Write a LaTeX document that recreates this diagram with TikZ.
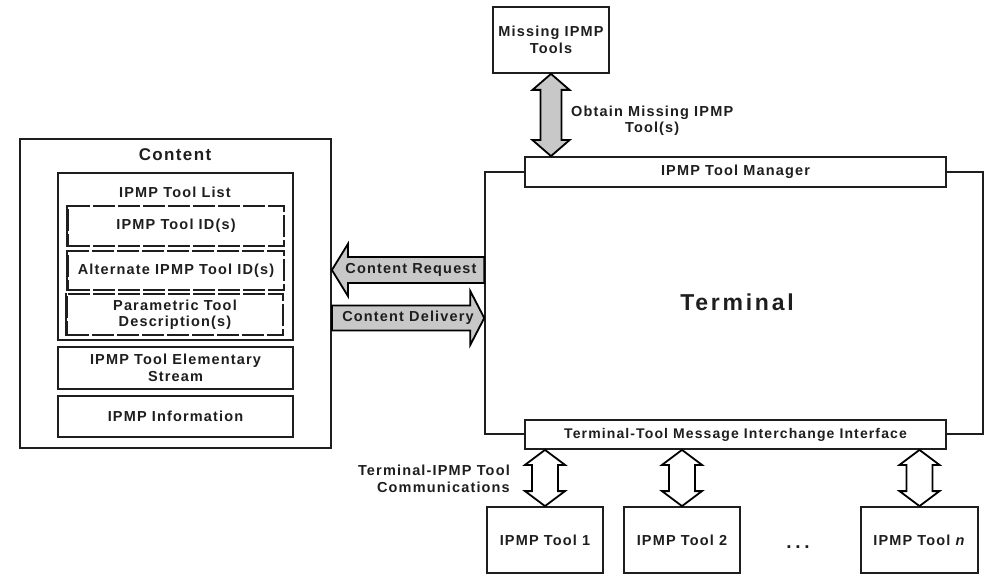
\documentclass[tikz,border=0pt]{standalone}
\usepackage{fontspec}
\setmainfont{Liberation Sans}[LetterSpace=8]
\usetikzlibrary{calc}
\definecolor{ink}{HTML}{1E1E1E}
\definecolor{arrowgray}{HTML}{C8C8C8}
\newcommand{\harrowshape}[6]{%
  \draw[#1] let \p1=(#2), \p2=(#3) in
    (\x1,\y1) -- (\x1+#6,\y1+#5) -- (\x1+#6,\y1+#4) -- (\x2,\y1+#4)
    -- (\x2,\y1-#4) -- (\x1+#6,\y1-#4) -- (\x1+#6,\y1-#5) -- cycle;}
\newcommand{\vdarrowshape}[6]{%
  \draw[#1] let \p1=(#2), \p2=(#3) in
    (\x1,\y1) -- (\x1+#5,\y1-#6) -- (\x1+#4,\y1-#6) -- (\x1+#4,\y2+#6)
    -- (\x1+#5,\y2+#6) -- (\x1,\y2) -- (\x1-#5,\y2+#6) -- (\x1-#4,\y2+#6)
    -- (\x1-#4,\y1-#6) -- (\x1-#5,\y1-#6) -- cycle;}
\begin{document}
\begin{tikzpicture}[x=1pt,y=-1pt,
  every node/.style={text=ink, font=\bfseries\fontsize{14.5}{16.5}\selectfont, inner sep=0pt},
  box/.style={draw=ink, line width=1.8pt, fill=white, align=center},
  dbox/.style={draw=ink, line width=1.8pt, dash pattern=on 22pt off 3pt, align=center},
  solidedge/.style={draw=ink, line width=1.8pt},
  frame/.style={draw=ink, line width=1.5pt},
  blockgray/.style={draw=black, line width=1.8pt, fill=arrowgray, line join=miter},
  blockwhite/.style={draw=black, line width=1.8pt, fill=white, line join=miter},
  lbl/.style={align=center}]
\useasboundingbox (0,0) rectangle (990,575);

% Missing tools
\node[box, minimum width=116pt, minimum height=66pt] (missing) at (551,40) {Missing IPMP\\Tools};

% Content block
\node[box, minimum width=311pt, minimum height=309pt] (content) at (175.5,293.5) {};
\node[font=\bfseries\fontsize{17}{19}\selectfont] (ctitle) at (175,155) {Content};
\node[box, minimum width=235pt, minimum height=167pt] (list) at (175.5,256.5) {};
\node (listtitle) at (175,192) {IPMP Tool List};
\node[dbox, minimum width=216pt, minimum height=40pt] (ids) at (176,226) {IPMP Tool ID(s)};
\node[dbox, minimum width=216pt, minimum height=39pt] (alt) at (176,270.5) {Alternate IPMP Tool ID(s)};
\node[dbox, minimum width=216pt, minimum height=41pt] (param) at (175,314.5) {Parametric Tool\\Description(s)};
\foreach \d in {ids,alt,param}{\draw[solidedge] (\d.north west) -- (\d.south west);}
\node[box, minimum width=235pt, minimum height=42pt] (es) at (175.5,368) {IPMP Tool Elementary\\Stream};
\node[box, minimum width=235pt, minimum height=41pt] (info) at (175.5,416.5) {IPMP Information};

% Terminal
\node[frame, minimum width=498pt, minimum height=262pt] (term) at (734,303) {};
\node[font=\bfseries\fontsize{23}{26}\selectfont\addfontfeature{LetterSpace=12}] (termtext) at (737,302) {Terminal};
\node[box, minimum width=421pt, minimum height=30pt] (mgr) at (735.5,172) {IPMP Tool Manager};
\node[box, minimum width=421pt, minimum height=29pt, font=\bfseries\fontsize{14}{16.5}\selectfont] (iface) at (735.5,434.5) {Terminal-Tool Message Interchange Interface};

% Tools
\node[box, minimum width=116pt, minimum height=66pt] (t1) at (545,540) {IPMP Tool 1};
\node[box, minimum width=116pt, minimum height=66pt] (t2) at (682,540) {IPMP Tool 2};
\node[box, minimum width=117pt, minimum height=66pt] (tn) at (919.5,540) {IPMP Tool \textit{n}};
\node[anchor=base, font=\bfseries\fontsize{19}{20}\selectfont\addfontfeature{LetterSpace=20}] (dots) at (798,548) {...};

% Obtain arrow
\coordinate (oaTop) at (missing.south);
\coordinate (oaBot) at (missing.south |- mgr.north);
\vdarrowshape{blockgray}{oaTop}{oaBot}{10.5pt}{18.5pt}{16pt}
\node[lbl, anchor=west] (oalbl) at (571,121) {Obtain Missing IPMP\\Tool(s)};

% Content request / delivery
\coordinate (crTip) at (content.east |- 0,270);
\coordinate (crTail) at (term.west |- 0,270);
\harrowshape{blockgray}{crTip}{crTail}{13pt}{26pt}{16pt}
\node (crlbl) at (411,270) {Content Request};
\coordinate (cdTip) at (term.west |- 0,318);
\coordinate (cdTail) at (content.east |- 0,318);
\harrowshape{blockgray}{cdTip}{cdTail}{12.5pt}{27pt}{-14pt}
\node (cdlbl) at (408,318) {Content Delivery};

% Tool communications
\foreach \t in {t1,t2,tn}{
  \coordinate (\t Top) at (\t.north |- iface.south);
  \vdarrowshape{blockwhite}{\t Top}{\t.north}{13pt}{20pt}{15pt}
}
\node[lbl, align=right, anchor=east] (commlbl) at (510,479) {Terminal-IPMP Tool\\Communications};
\end{tikzpicture}
\end{document}
